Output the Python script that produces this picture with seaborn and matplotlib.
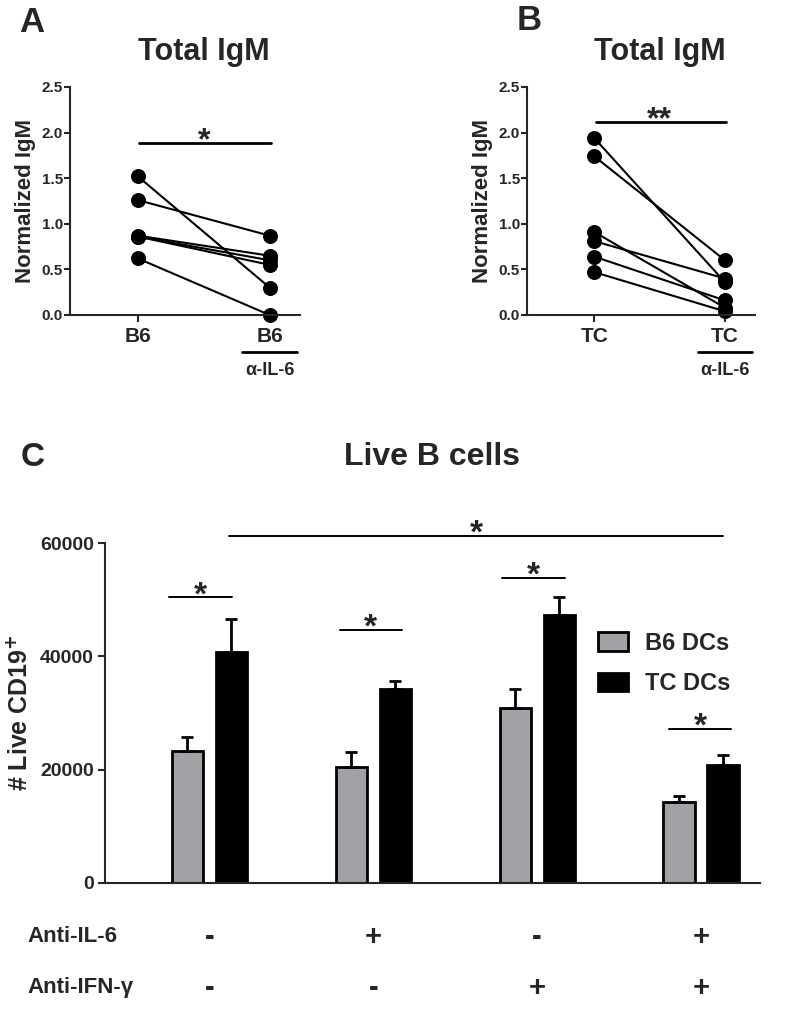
import matplotlib
matplotlib.use('Agg')
import matplotlib.pyplot as plt
import matplotlib.transforms as mtransforms
from matplotlib.patches import Patch
import numpy as np
import pandas as pd
import seaborn as sns

# --- data ---
# panel A: paired IgM, B6 vs B6 + anti-IL-6
a_b6 = [1.52, 1.26, 0.87, 0.86, 0.86, 0.62]
a_b6_il6 = [0.30, 0.87, 0.65, 0.60, 0.55, 0.00]
a_ticks = ['B6', 'B6']

# panel B: paired IgM, TC vs TC + anti-IL-6
b_tc = [1.94, 1.74, 0.91, 0.81, 0.64, 0.47]
b_tc_il6 = [0.36, 0.60, 0.08, 0.40, 0.16, 0.04]
b_ticks = ['TC', 'TC']

# panel C: live CD19+ B cells (mean, SEM)
conditions = ['c1', 'c2', 'c3', 'c4']
dc_types = ['B6 DCs', 'TC DCs']
b6_mean = [23200, 20400, 30900, 14300]
b6_sem = [2600, 2650, 3400, 1000]
tc_mean = [40800, 34200, 47300, 20800]
tc_sem = [5800, 1500, 3150, 1770]
anti_il6 = ['-', '+', '-', '+']
anti_ifng = ['-', '-', '+', '+']

W, H = 794, 1015


def box(x0, y_top, x1, y_bot):
    # pixel box -> figure fraction
    return [x0 / W, 1 - y_bot / H, (x1 - x0) / W, (y_bot - y_top) / H]


sns.set_style('ticks')
plt.rcParams['font.family'] = ['Liberation Sans', 'DejaVu Sans']
plt.rcParams['font.weight'] = 'bold'
plt.rcParams['axes.labelweight'] = 'bold'
plt.rcParams['axes.linewidth'] = 1.5

fig = plt.figure(figsize=(W / 100, H / 100), dpi=100)


def paired_panel(ax, left, right, ticks, letter, letter_xy, stars, sig_y):
    n = len(left)
    df = pd.DataFrame({'mouse': list(range(n)) * 2,
                       'pos': [0] * n + [1] * n,
                       'igm': left + right})
    sns.lineplot(data=df, x='pos', y='igm', units='mouse', estimator=None,
                 color='black', marker='o', markersize=10, markeredgecolor='black',
                 linewidth=1.5, legend=False, ax=ax)
    for ln in ax.lines:
        ln.set_clip_on(False)
    ax.set_xlim(-0.515, 1.23)
    ax.set_ylim(0, 2.5)
    ax.set_yticks(np.arange(0, 2.51, 0.5))
    ax.set_yticklabels([f'{v:.1f}' for v in np.arange(0, 2.51, 0.5)])
    ax.set_xticks([0, 1])
    ax.set_xticklabels(ticks)
    ax.tick_params(axis='y', labelsize=11, length=4, width=1.5, pad=1)
    ax.tick_params(axis='x', labelsize=15, length=5, width=1.5, pad=4)
    ax.set_xlabel('')
    ax.set_ylabel('Normalized IgM', fontsize=16, labelpad=4)
    sns.despine(ax=ax)

    trans = mtransforms.blended_transform_factory(ax.transData, ax.transAxes)
    ax.text(0.5, 1.155, 'Total IgM', transform=trans, ha='center', va='center',
            fontsize=22, fontweight='bold')
    # underline and treatment label under the second group
    ax.plot([0.79, 1.205], [-0.162, -0.162], transform=trans, color='black',
            lw=2, clip_on=False)
    ax.text(1.0, -0.245, 'α-IL-6', transform=trans, ha='center', va='center',
            fontsize=13)
    # significance
    ax.plot([0.01, 1.01], [sig_y, sig_y], color='black', lw=2, clip_on=False)
    ax.annotate(stars, xy=(0.5, sig_y), xytext=(0, -5), textcoords='offset points',
                ha='center', va='baseline', fontsize=23)
    fig.text(letter_xy[0] / W, 1 - letter_xy[1] / H, letter, fontsize=25,
             fontweight='bold', ha='center', va='center')


axA = fig.add_axes(box(70, 87, 300, 315))
paired_panel(axA, a_b6, a_b6_il6, a_ticks, 'A', (32, 22), '*', 1.89)

axB = fig.add_axes(box(527, 87, 755, 315))
paired_panel(axB, b_tc, b_tc_il6, b_ticks, 'B', (529, 21), '**', 2.12)

# --- panel C ---
axC = fig.add_axes(box(105, 543.3, 760, 882.7))
dfc = pd.DataFrame({'cond': conditions * 2,
                    'dc': [dc_types[0]] * 4 + [dc_types[1]] * 4,
                    'cells': b6_mean + tc_mean,
                    'sem': b6_sem + tc_sem})
grey = '#a2a2a6'
palette = {dc_types[0]: grey, dc_types[1]: 'black'}
sns.barplot(data=dfc, x='cond', y='cells', hue='dc', order=conditions,
            hue_order=dc_types, palette=palette, width=0.536, gap=0.29,
            errorbar=None, edgecolor='black', linewidth=2, legend=False,
            saturation=1, ax=axC)

# one-sided SEM bars on top of each bar
bars = sorted(axC.patches, key=lambda p: p.get_x())
means, sems = [], []
for i in range(len(conditions)):
    means += [b6_mean[i], tc_mean[i]]
    sems += [b6_sem[i], tc_sem[i]]
xc = [p.get_x() + p.get_width() / 2 for p in bars]
axC.errorbar(xc, means, yerr=[np.zeros(len(sems)), sems], fmt='none',
             ecolor='black', elinewidth=2, capsize=4.5, capthick=2, zorder=1)

axC.set_xlim(-0.637, 3.36)
axC.set_ylim(0, 60000)
axC.set_yticks([0, 20000, 40000, 60000])
axC.set_xticks([])
axC.set_xlabel('')
axC.set_ylabel('# Live CD19$^{\\mathbf{+}}$', fontsize=18, labelpad=6)
axC.tick_params(axis='y', labelsize=14, length=5, width=1.5, pad=3)
sns.despine(ax=axC)

# significance brackets
brackets = [(-0.247, 0.137, 50450), (0.796, 1.174, 44670), (1.784, 2.168, 53870),
            (2.802, 3.186, 27170), (0.119, 3.137, 61290)]
for x0, x1, y in brackets:
    axC.plot([x0, x1], [y, y], color='black', lw=1.4, clip_on=False)
    axC.annotate('*', xy=((x0 + x1) / 2, y), xytext=(0, -5),
                 textcoords='offset points', ha='center', va='baseline',
                 fontsize=24, annotation_clip=False)

handles = [Patch(facecolor=palette[d], edgecolor='black', linewidth=2, label=d)
           for d in dc_types]
axC.legend(handles=handles, loc='upper left', bbox_to_anchor=(0.752, 0.74),
           frameon=False, fontsize=17, handlelength=1.3, handleheight=0.85,
           handletextpad=0.7, labelspacing=0.75, borderpad=0, borderaxespad=0)

axC.text(0.5, 1.254, 'Live B cells', transform=axC.transAxes, ha='center',
         va='center', fontsize=23, fontweight='bold')
fig.text(33 / W, 1 - 457 / H, 'C', fontsize=24, fontweight='bold',
         ha='center', va='center')

# treatment table under panel C
row_trans = mtransforms.blended_transform_factory(axC.transData, fig.transFigure)
for label, signs, ypx in [('Anti-IL-6', anti_il6, 937), ('Anti-IFN-γ', anti_ifng, 988)]:
    fig.text(27 / W, 1 - ypx / H, label, fontsize=16, ha='left', va='center')
    for i, s in enumerate(signs):
        axC.text(i, 1 - ypx / H, s, transform=row_trans, ha='center', va='center',
                 fontsize=21, fontweight='bold')

fig.savefig('out.png', dpi=100)
